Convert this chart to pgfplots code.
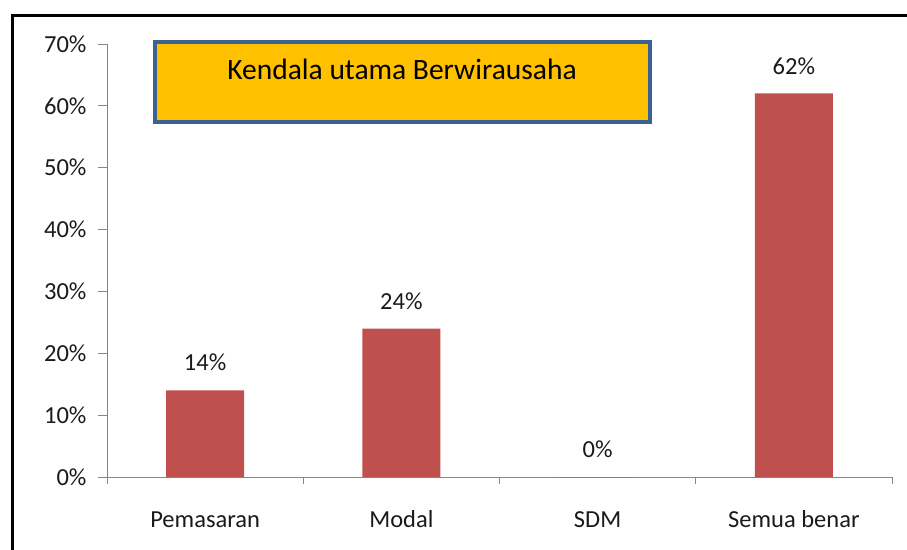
\documentclass[border=0pt]{standalone}
\usepackage{fontspec}
\setmainfont{Carlito}
\usepackage{pgfplots}
\pgfplotsset{compat=1.18}
\definecolor{barred}{HTML}{C0504D}
\definecolor{axgray}{HTML}{868686}
\definecolor{titlefill}{HTML}{FFC000}
\definecolor{titleborder}{HTML}{3D6191}
\definecolor{txt}{HTML}{1A1A1A}
\begin{document}
\begin{tikzpicture}[x=1pt,y=1pt]
\useasboundingbox (0,0) rectangle (907,549);
\begin{scope}
\clip (0,0) rectangle (907,549);
\draw[line width=3pt] (12.5,-20) -- (12.5,533) -- (930,533);
\end{scope}
\begin{axis}[
  at={(107pt,72pt)}, anchor=south west, scale only axis,
  width=785pt, height=433pt,
  xmin=-0.5, xmax=3.5, ymin=0, ymax=70,
  axis x line*=bottom, axis y line*=left,
  axis line style={axgray, line width=0.9pt},
  ybar, bar width=78pt,
  xtick={0,1,2,3}, xticklabels={Pemasaran,Modal,SDM,Semua benar},
  minor xtick={-0.5,0.5,1.5,2.5,3.5},
  ytick={0,10,...,70},
  yticklabel={\pgfmathprintnumber{\tick}\%},
  /pgf/number format/assume math mode=true,
  tick align=outside,
  major x tick style={draw=none},
  minor x tick style={draw=axgray, line width=0.9pt},
  major y tick style={draw=axgray, line width=0.9pt},
  minor tick length=7pt,
  major tick length=9pt,
  tick label style={font=\fontsize{24.5}{29}\selectfont, text=txt},
  xticklabel style={anchor=base, yshift=-41pt},
  yticklabel style={anchor=east, xshift=-8pt},
  nodes near coords={\pgfmathprintnumber{\pgfplotspointmeta}\%},
  nodes near coords style={font=\fontsize{24.5}{29}\selectfont, text=txt, anchor=south, inner sep=0pt, yshift=19pt},
  clip=false,
]
\addplot[fill=barred, draw=none] coordinates {(0,14) (1,24) (2,0) (3,62)};
\end{axis}
\draw[line width=4pt, draw=titleborder, fill=titlefill] (155,507) rectangle (650,427);
\node[anchor=base, font=\fontsize{29.5}{34}\selectfont, text=black, inner sep=0pt] at (402,469) {Kendala utama Berwirausaha};
\end{tikzpicture}
\end{document}
